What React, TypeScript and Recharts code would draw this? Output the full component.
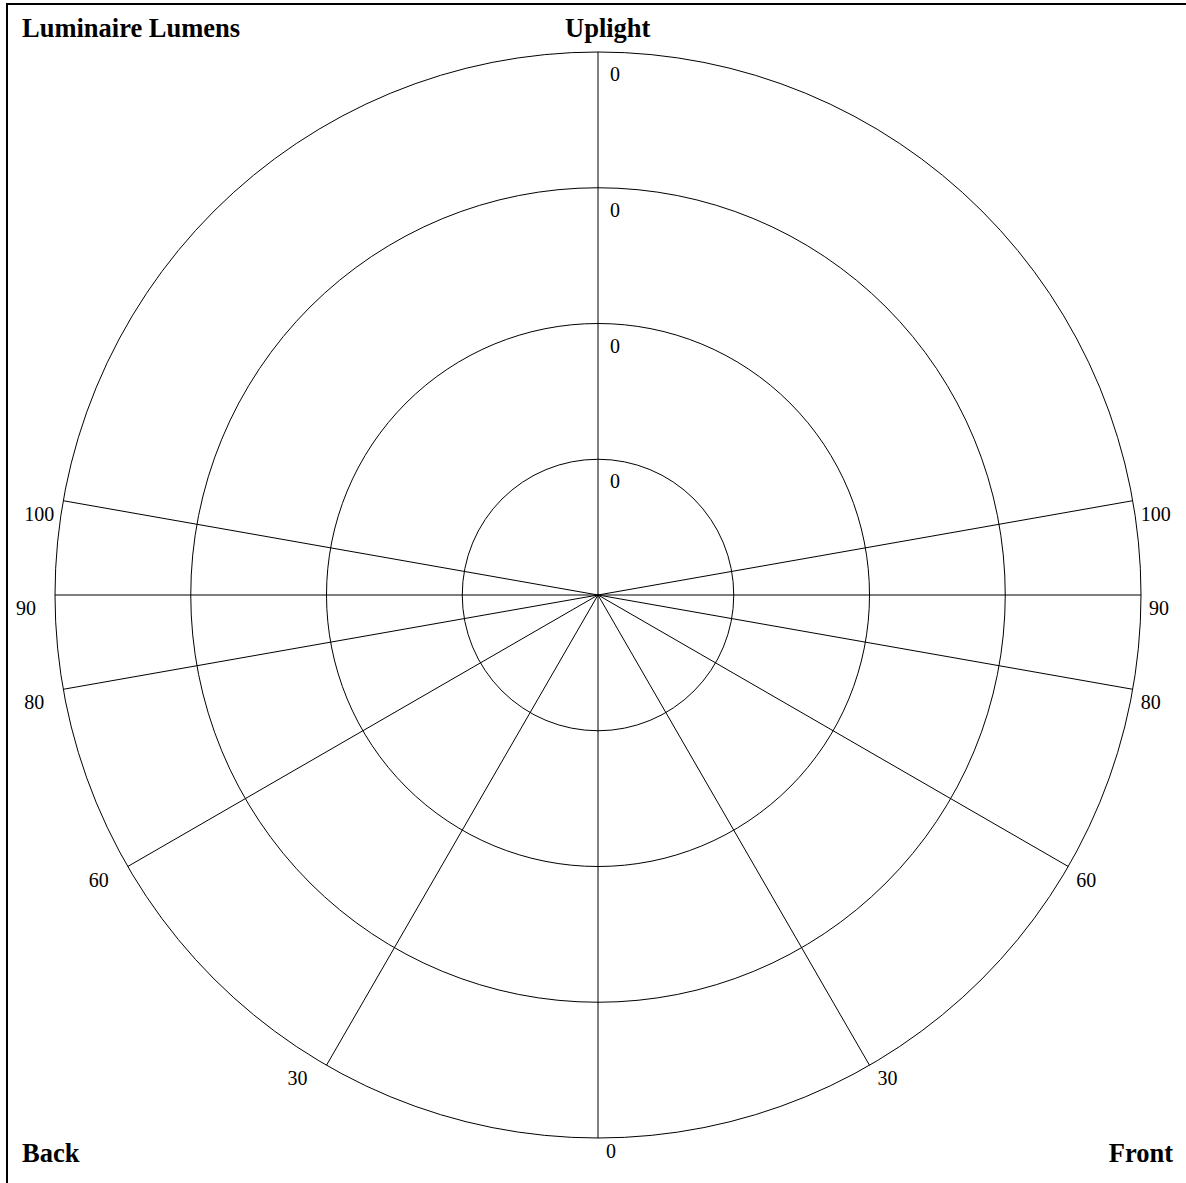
import { RadialBarChart, RadialBar, PolarGrid, PolarAngleAxis, PolarRadiusAxis } from 'recharts';

// angles measured from straight down: positive = Front (right), negative = Back (left)
const angleTicks = [-180, -100, -90, -80, -60, -30, 0, 30, 60, 80, 90, 100];
const ringTicks = [1, 2, 3, 4];
const ringLabels = ['0', '0', '0', '0'];
const lumens = [0, 0, 0, 0];

const data = ringTicks.map((ring, i) => ({ ring, lumens: lumens[i] }));

const serif = '"Times New Roman", "Liberation Serif", serif';

const AngleTick = (props: any) => {
  const { x, y, cx, cy, radius, payload } = props;
  const v = payload.value;
  if (Math.abs(v) === 180) return <g />;
  // pull the label anchor back onto the outer circle
  const dx = x - cx;
  const dy = y - cy;
  const d = Math.hypot(dx, dy) || 1;
  const ex = cx + (dx * radius) / d;
  const ey = cy + (dy * radius) / d;
  const tx = v < 0 ? ex - 39 : ex + 8;
  return (
    <text x={tx} y={ey + 20} textAnchor="start" fontSize={20} fontFamily={serif} fill="#000">
      {Math.abs(v)}
    </text>
  );
};

const RingTick = (props: any) => {
  const { x, y, index } = props;
  return (
    <text x={x + 12} y={y + 29} textAnchor="start" fontSize={20} fontFamily={serif} fill="#000">
      {ringLabels[index]}
    </text>
  );
};

export default function App() {
  return (
    <div style={{ position: 'absolute', left: 0, top: 0, width: 1186, height: 1183, overflow: 'hidden', background: '#fff' }}>
      <div
        style={{
          position: 'absolute', left: 6, top: 3, width: 1180, height: 1180,
          borderTop: '2px solid #000', borderLeft: '2px solid #000', boxSizing: 'border-box',
        }}
      />
      <div style={{ position: 'absolute', left: 0, top: 0 }}>
        <RadialBarChart
          width={1186}
          height={1183}
          data={data}
          cx={598}
          cy={595}
          innerRadius={0}
          outerRadius={543}
          startAngle={-270}
          endAngle={90}
          margin={{ top: 0, right: 0, bottom: 0, left: 0 }}
        >
          <PolarGrid gridType="circle" stroke="#000" strokeWidth={1} />
          <PolarAngleAxis
            type="number"
            domain={[-180, 180]}
            ticks={angleTicks}
            axisLine={false}
            tickLine={false}
            tick={<AngleTick />}
          />
          <PolarRadiusAxis
            type="number"
            dataKey="ring"
            angle={90}
            domain={[0, 4]}
            ticks={ringTicks}
            axisLine={false}
            tickLine={false}
            tick={<RingTick />}
          />
          <RadialBar dataKey="lumens" fill="none" isAnimationActive={false} />
        </RadialBarChart>
      </div>
      <svg width={1186} height={1183} style={{ position: 'absolute', left: 0, top: 0, pointerEvents: 'none' }}>
        <g fontFamily={serif} fontWeight="bold" fontSize={26.5} fill="#000">
          <text x={22} y={37}>Luminaire Lumens</text>
          <text x={565} y={37}>Uplight</text>
          <text x={22} y={1162}>Back</text>
          <text x={1173} y={1162} textAnchor="end">Front</text>
        </g>
      </svg>
    </div>
  );
}
